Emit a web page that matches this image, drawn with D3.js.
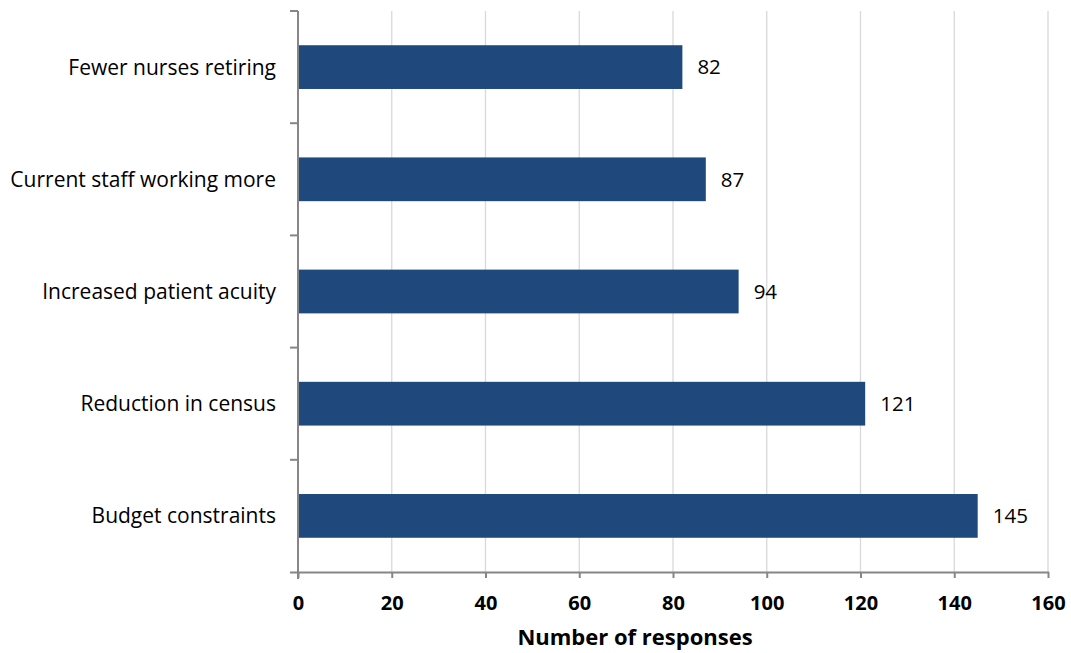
<!DOCTYPE html>
<html>
<head>
<meta charset="utf-8">
<script src="https://cdn.jsdelivr.net/npm/d3@7"></script>
<style>
  html, body { margin: 0; padding: 0; background: #fff; }
  svg { display: block; font-family: "Open Sans", "Noto Sans", sans-serif; }
</style>
</head>
<body>
<svg id="chart" width="1071" height="653"></svg>
<script>
// Reasons given, top to bottom
const categories = [
  "Fewer nurses retiring",
  "Current staff working more",
  "Increased patient acuity",
  "Reduction in census",
  "Budget constraints"
];
const responses = [82, 87, 94, 121, 145];
const xTicks = [0, 20, 40, 60, 80, 100, 120, 140, 160];
const xTitle = "Number of responses";

const svg = d3.select("#chart");
const margin = { left: 298, right: 23, top: 11, bottom: 81 };
const W = 1071, H = 653;
const innerW = W - margin.left - margin.right;
const innerH = H - margin.top - margin.bottom;

const g = svg.append("g").attr("transform", `translate(${margin.left},${margin.top})`);

const x = d3.scaleLinear().domain([0, 160]).range([0, innerW]);
const y = d3.scaleBand().domain(categories).range([0, innerH]).paddingInner(0.61).paddingOuter(0.305);
const yEdges = d3.scaleLinear().domain([0, categories.length]).range([0, innerH]);

// vertical gridlines
g.append("g").selectAll("line")
  .data(xTicks.filter(d => d > 0))
  .join("line")
  .attr("x1", d => x(d)).attr("x2", d => x(d))
  .attr("y1", 0).attr("y2", innerH)
  .attr("stroke", "#d9d9d9").attr("stroke-width", 1.3);

// bars
g.append("g").selectAll("rect")
  .data(categories)
  .join("rect")
  .attr("x", x(0))
  .attr("y", d => y(d))
  .attr("width", (d, i) => x(responses[i]) - x(0))
  .attr("height", y.bandwidth())
  .attr("fill", "#1f497d");

// value labels
g.append("g").selectAll("text")
  .data(categories)
  .join("text")
  .attr("x", (d, i) => x(responses[i]) + 15)
  .attr("y", d => y(d) + y.bandwidth() / 2)
  .attr("dy", "0.36em")
  .attr("font-size", 20.5)
  .attr("fill", "#000")
  .text((d, i) => responses[i]);

// x axis
const xAxis = g.append("g").attr("transform", `translate(0,${innerH})`)
  .call(d3.axisBottom(x).tickValues(xTicks).tickSize(6).tickPadding(18).tickSizeOuter(0));
xAxis.select(".domain").attr("stroke", "#868686").attr("stroke-width", 2)
  .attr("d", `M-8,0.5H${innerW + 1}`);
xAxis.selectAll(".tick line").attr("stroke", "#868686").attr("stroke-width", 2);
xAxis.selectAll(".tick text")
  .attr("font-size", 20).attr("font-weight", "bold").attr("fill", "#000")
  .attr("font-family", "\"Open Sans\", sans-serif");

// y axis: line with ticks at band edges
const yAxis = g.append("g");
yAxis.append("line")
  .attr("x1", 0).attr("x2", 0).attr("y1", 0).attr("y2", innerH + 7)
  .attr("stroke", "#868686").attr("stroke-width", 2);
yAxis.selectAll("line.tick")
  .data(d3.range(categories.length))
  .join("line").attr("class", "tick")
  .attr("x1", -8).attr("x2", 0)
  .attr("y1", d => yEdges(d)).attr("y2", d => yEdges(d))
  .attr("stroke", "#868686").attr("stroke-width", 2);
yAxis.selectAll("text")
  .data(categories)
  .join("text")
  .attr("x", -22)
  .attr("y", d => y(d) + y.bandwidth() / 2)
  .attr("dy", "0.36em")
  .attr("text-anchor", "end")
  .attr("font-size", 21)
  .attr("fill", "#000")
  .text(d => d);

// axis title
svg.append("text")
  .attr("x", 635)
  .attr("y", 645)
  .attr("text-anchor", "middle")
  .attr("font-size", 22)
  .attr("font-weight", "bold")
  .attr("fill", "#000")
  .text(xTitle);
</script>
</body>
</html>
